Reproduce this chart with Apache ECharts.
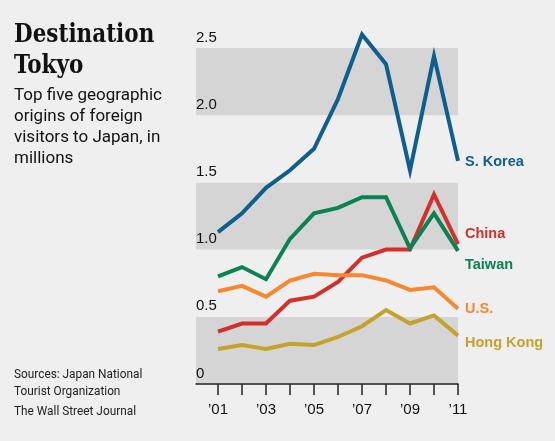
<!DOCTYPE html>
<html><head><meta charset="utf-8">
<script src="https://cdn.jsdelivr.net/npm/echarts@6/dist/echarts.min.js"></script>
<style>html,body{margin:0;padding:0;background:#efefef}#c{width:555px;height:441px}</style>
</head><body><div id="c"></div>
<script>
var years = [2001,2002,2003,2004,2005,2006,2007,2008,2009,2010,2011];
var labelYears = [2001,2003,2005,2007,2009,2011];
var sKorea   = [1.13,1.27,1.46,1.59,1.75,2.12,2.60,2.38,1.59,2.44,1.66];
var china    = [0.39,0.45,0.45,0.62,0.65,0.76,0.94,1.00,1.00,1.41,1.04];
var taiwan   = [0.80,0.87,0.78,1.08,1.27,1.31,1.39,1.39,1.01,1.27,0.99];
var us       = [0.69,0.73,0.65,0.77,0.82,0.81,0.81,0.77,0.70,0.72,0.56];
var hongKong = [0.26,0.29,0.26,0.30,0.29,0.35,0.43,0.55,0.45,0.51,0.36];

var seriesDefs = [
  {name:'S. Korea', data:sKorea, color:'#0d5f8e', dy:1},
  {name:'China', data:china, color:'#d1302b', dy:-10},
  {name:'Taiwan', data:taiwan, color:'#0b8251', dy:14},
  {name:'U.S.', data:us, color:'#f8882f', dy:0},
  {name:'Hong Kong', data:hongKong, color:'#c5a22e', dy:7}
];

var chart = echarts.init(document.getElementById('c'), null, {renderer:'canvas'});
var sans = 'Liberation Sans, Arial, sans-serif';
chart.setOption({
  backgroundColor:'#efefef',
  animation:false,
  grid:{left:196, right:97, top:48, bottom:57, containLabel:false},
  xAxis:{
    type:'value', min:2011 - 262/24, max:2011,
    axisLine:{show:true, lineStyle:{color:'#222', width:1.5}},
    axisTick:{show:true, length:11, customValues:years, lineStyle:{color:'#222', width:1.5}},
    axisLabel:{customValues:labelYears, margin:18, color:'#111', fontFamily:sans, fontSize:15,
      formatter:function(v){return '\u2019' + String(Math.round(v)).slice(2);}},
    splitLine:{show:false}
  },
  yAxis:{
    type:'value', min:0, max:2.5, interval:0.5,
    axisLine:{show:false}, axisTick:{show:false},
    splitLine:{show:false},
    splitArea:{show:true, areaStyle:{color:['#d5d5d5','#efefef']}},
    axisLabel:{inside:true, margin:0, align:'left', verticalAlign:'bottom', padding:[0,0,3,0],
      color:'#111', fontFamily:sans, fontSize:15,
      formatter:function(v){return v===0 ? '0' : v.toFixed(1);}}
  },
  series: seriesDefs.map(function(s){
    return {
      name:s.name, type:'line', clip:false, symbol:'none', z:3,
      data: years.map(function(y,i){return [y, s.data[i]];}),
      lineStyle:{color:s.color, width:4, join:'miter'},
      itemStyle:{color:s.color},
      endLabel:{show:true, formatter:s.name, color:s.color, fontFamily:sans, fontWeight:'bold',
        fontSize:14.5, distance:7, offset:[0, s.dy]}
    };
  }),
  graphic:[
    {type:'text', x:14, y:20, scaleX:0.92, style:{text:'Destination\nTokyo', font:'bold 26px "DejaVu Serif Condensed", "DejaVu Serif"', lineHeight:31, fill:'#111'}},
    {type:'text', left:14, top:85, style:{text:'Top five geographic\norigins of foreign\nvisitors to Japan, in\nmillions', font:'17px Roboto', lineHeight:21, fill:'#111'}},
    {type:'text', x:14, y:366, scaleX:0.91, style:{text:'Sources: Japan National\nTourist Organization', font:'13px Roboto', lineHeight:17, fill:'#222'}},
    {type:'text', x:14, y:403, scaleX:0.91, style:{text:'The Wall Street Journal', font:'13px Roboto', lineHeight:17, fill:'#222'}}
  ]
});
</script></body></html>
